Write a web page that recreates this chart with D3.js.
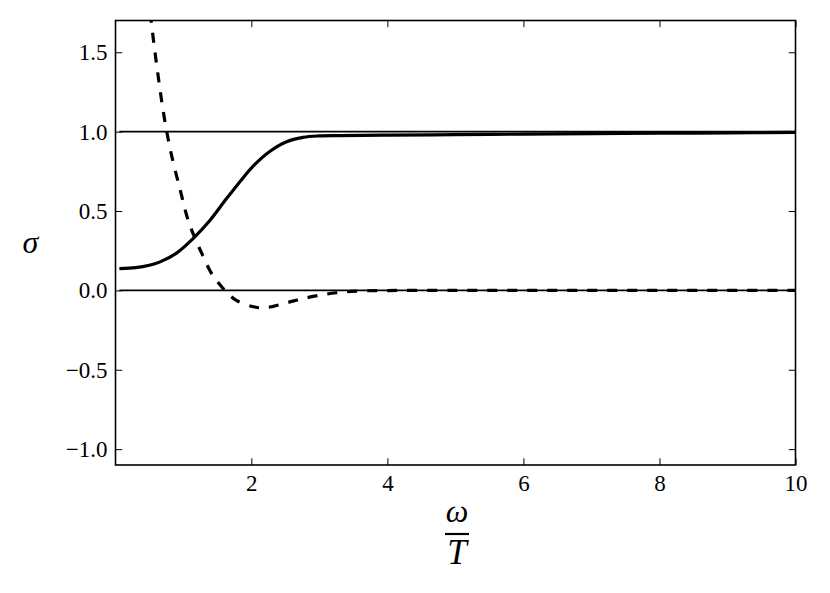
<!DOCTYPE html>
<html>
<head>
<meta charset="utf-8">
<script src="https://cdnjs.cloudflare.com/ajax/libs/d3/7.8.5/d3.min.js"></script>
<style>
  body { margin: 0; background: #fff; }
  svg { display: block; background: #fff; }
</style>
</head>
<body>
<script>
// solid curve
var solidX = [0.06, 0.3, 0.5, 0.65, 0.9, 1.14, 1.39, 1.63, 1.88, 2.02, 2.27, 2.51, 2.76, 3.0, 3.3, 4, 5, 6, 7, 8, 9, 10];
var solidY = [0.137, 0.143, 0.158, 0.178, 0.235, 0.325, 0.44, 0.575, 0.71, 0.78, 0.875, 0.935, 0.964, 0.973, 0.975, 0.978, 0.981, 0.984, 0.987, 0.99, 0.992, 0.995];
// dashed curve
var dashX = [0.4, 0.53, 0.63, 0.725, 0.82, 0.95, 1.07, 1.17, 1.28, 1.41, 1.52, 1.61, 1.78, 2.05, 2.2, 2.32, 2.61, 2.91, 3.25, 3.59, 4, 5, 6, 7, 8, 9, 10];
var dashY = [2.25, 1.69, 1.35, 1.076, 0.865, 0.64, 0.443, 0.33, 0.225, 0.11, 0.045, 0, -0.063, -0.105, -0.11, -0.101, -0.068, -0.038, -0.015, -0.004, -0.001, 0, 0, 0, 0, 0, 0];
// horizontal reference lines
var refLevels = [0, 1];
var refFrom = 0.06, refTo = 10;
// ticks
var xTicks = [2, 4, 6, 8, 10];
var yTicks = [-1.0, -0.5, 0.0, 0.5, 1.0, 1.5];

var W = 830, H = 593;
var L = 115.5, R = 795.5, T = 20.5, B = 465;
var serif = "Liberation Serif";

var svg = d3.select("body").append("svg").attr("width", W).attr("height", H)
  .attr("font-family", serif);

var x = d3.scaleLinear().domain([0.003, 10]).range([L, R]);
var y = d3.scaleLinear().domain([-1.1, 1.7]).range([B, T]);

svg.append("clipPath").attr("id", "clip")
  .append("rect").attr("x", L).attr("y", T).attr("width", R - L).attr("height", B - T);

var plot = svg.append("g").attr("clip-path", "url(#clip)");

// reference lines
plot.selectAll("line.ref").data(refLevels).enter().append("line")
  .attr("class", "ref")
  .attr("x1", x(refFrom)).attr("x2", x(refTo))
  .attr("y1", function(d){ return y(d); }).attr("y2", function(d){ return y(d); })
  .attr("stroke", "#000").attr("stroke-width", 1.7);

var line = d3.line()
  .x(function(d){ return x(d[0]); })
  .y(function(d){ return y(d[1]); })
  .curve(d3.curveCatmullRom.alpha(0.5));

plot.append("path")
  .attr("d", line(d3.zip(solidX, solidY)))
  .attr("fill", "none").attr("stroke", "#000").attr("stroke-width", 3.2);

plot.append("path")
  .attr("d", line(d3.zip(dashX, dashY)))
  .attr("fill", "none").attr("stroke", "#000").attr("stroke-width", 3.2)
  .attr("stroke-dasharray", "10,10");

// axes, ticks drawn inward
var tickLen = 6.7;
var fmt = function(d){ return d3.format(".1f")(d).replace("-", "\u2212"); };

var gx = svg.append("g").attr("transform", "translate(0," + B + ")")
  .call(d3.axisBottom(x).tickValues(xTicks).tickSizeInner(-tickLen).tickSizeOuter(0).tickPadding(10).tickFormat(d3.format("d")));
var gy = svg.append("g").attr("transform", "translate(" + L + ",0)")
  .call(d3.axisLeft(y).tickValues(yTicks).tickSizeInner(-tickLen).tickSizeOuter(0).tickPadding(8).tickFormat(fmt));
var gt = svg.append("g").attr("transform", "translate(0," + T + ")")
  .call(d3.axisTop(x).tickValues(xTicks).tickSizeInner(-tickLen).tickSizeOuter(0).tickFormat(""));
var gr = svg.append("g").attr("transform", "translate(" + R + ",0)")
  .call(d3.axisRight(y).tickValues(yTicks).tickSizeInner(-tickLen).tickSizeOuter(0).tickFormat(""));

[gx, gy, gt, gr].forEach(function(g){
  g.attr("font-family", serif).attr("font-size", 23);
  g.select(".domain").remove();
  g.selectAll(".tick line").attr("stroke", "#000").attr("stroke-width", 1);
  g.selectAll("text").attr("fill", "#000");
});

// frame
svg.append("rect").attr("x", L).attr("y", T).attr("width", R - L).attr("height", B - T)
  .attr("fill", "none").attr("stroke", "#000").attr("stroke-width", 1.6);

// y label
svg.append("text").attr("x", 30.5).attr("y", 253).attr("text-anchor", "middle")
  .attr("font-size", 32).attr("font-style", "italic").text("σ");

// x label as fraction
var cx = (L + R) / 2 + 1.5;
svg.append("text").attr("x", cx).attr("y", 521.5).attr("text-anchor", "middle")
  .attr("font-size", 32).attr("font-style", "italic").text("ω");
svg.append("line").attr("x1", cx - 12).attr("x2", cx + 12).attr("y1", 534).attr("y2", 534)
  .attr("stroke", "#000").attr("stroke-width", 2.2);
svg.append("text").attr("x", cx).attr("y", 564).attr("text-anchor", "middle")
  .attr("font-size", 35).attr("font-style", "italic").text("T");
</script>
</body>
</html>
